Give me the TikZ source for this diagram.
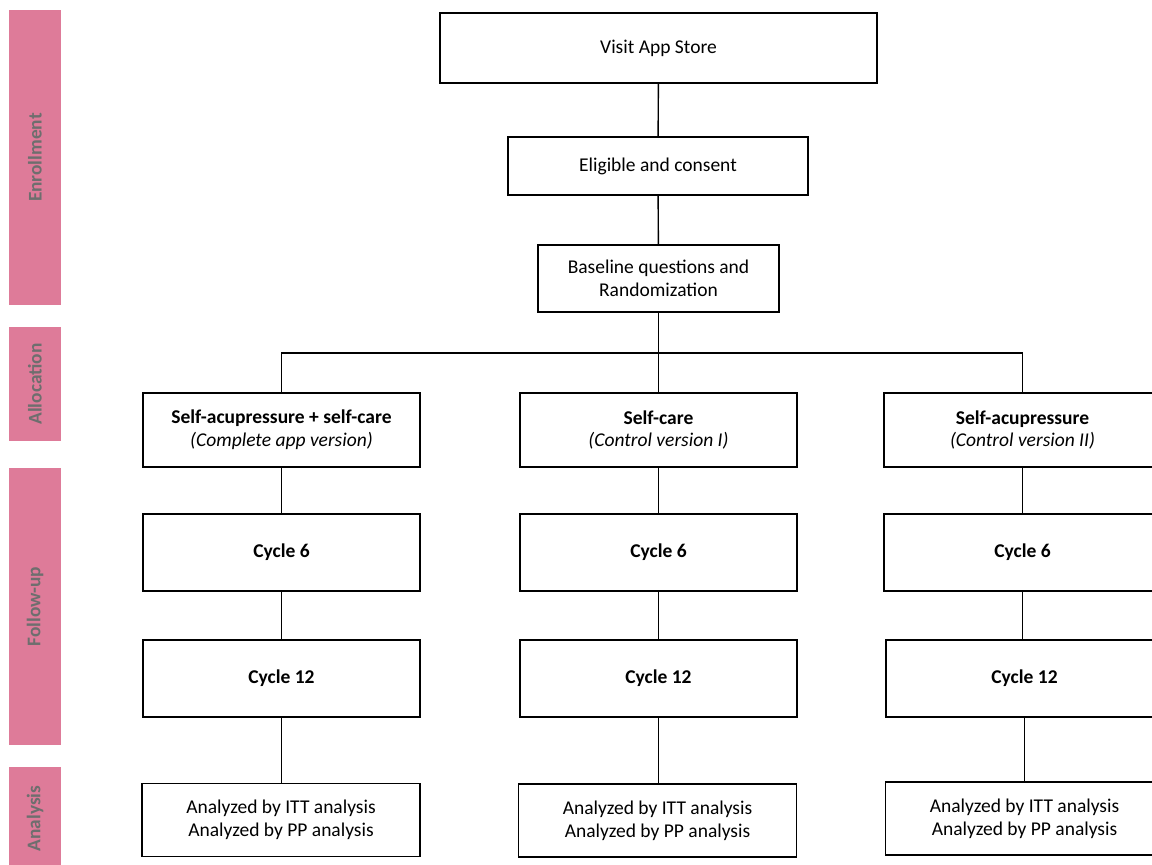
\documentclass[tikz,border=0pt]{standalone}
\usepackage{fontspec}
\setmainfont{Carlito}
\definecolor{phasepink}{HTML}{DE7B99}
\definecolor{phasegrey}{HTML}{6E6E6E}

\begin{document}
\begin{tikzpicture}[
  box/.style={draw, line width=0.8pt, align=center, inner sep=2pt,
    font=\fontsize{11.1}{13}\selectfont},
  armbox/.style={box, minimum width=5.54cm, minimum height=1.48cm},
  cycbox/.style={box, minimum width=5.54cm, minimum height=1.54cm, font=\fontsize{11.1}{13}\selectfont\bfseries},
  anbox/.style={box, minimum width=5.56cm, minimum height=1.46cm},
  phase/.style={fill=phasepink, rotate=90, minimum height=1.04cm, inner sep=0pt,
    text=phasegrey, font=\fontsize{11}{13}\selectfont\bfseries},
  link/.style={line width=0.8pt}]

\useasboundingbox (0,0) rectangle (23.04,-17.28);

\node[phase, minimum width=5.90cm] (enrol) at (0.70,-3.15)  {Enrollment};
\node[phase, minimum width=2.28cm] (alloc) at (0.70,-7.68)  {Allocation};
\node[phase, minimum width=5.54cm] (follow) at (0.70,-12.13) {Follow-up};
\node[phase, minimum width=2.06cm] (anal) at (0.70,-16.37)  {Analysis};

\node[box, minimum width=8.74cm, minimum height=1.40cm] (visit) at (13.17,-0.96) {Visit App Store};
\node[box, minimum width=6.00cm, minimum height=1.16cm] (elig)  at (13.16,-3.32) {Eligible and consent};
\node[box, minimum width=4.82cm, minimum height=1.34cm] (base)  at (13.17,-5.57) {Baseline questions and\\Randomization};
\coordinate (split) at (13.17,-7.06);

\node[armbox] (arm_a) at (5.63,-8.60)  {\textbf{Self-acupressure + self-care}\\\textit{(Complete app version)}};
\node[armbox] (arm_b) at (13.17,-8.60) {\textbf{Self-care}\\\textit{(Control version I)}};
\node[armbox] (arm_c) at (20.45,-8.60) {\textbf{Self-acupressure}\\\textit{(Control version II)}};

\node[cycbox] (c6_a) at (5.63,-11.05)  {Cycle 6};
\node[cycbox] (c6_b) at (13.17,-11.05) {Cycle 6};
\node[cycbox] (c6_c) at (20.45,-11.05) {Cycle 6};

\node[cycbox] (c12_a) at (5.63,-13.57)  {Cycle 12};
\node[cycbox] (c12_b) at (13.17,-13.57) {Cycle 12};
\node[cycbox] (c12_c) at (20.49,-13.57) {Cycle 12};

\node[anbox] (an_a) at (5.62,-16.40)  {Analyzed by ITT analysis\\Analyzed by PP analysis};
\node[anbox] (an_b) at (13.15,-16.41) {Analyzed by ITT analysis\\Analyzed by PP analysis};
\node[anbox] (an_c) at (20.49,-16.37) {Analyzed by ITT analysis\\Analyzed by PP analysis};

\draw[link] (visit) -- (elig);
\draw[link] (elig) -- (base);
\draw[link] (base) -- (split);
\draw[link] (arm_a.north) |- (split) -| (arm_c.north);
\draw[link] (split) -- (arm_b);
\foreach \col in {a,b,c} {
  \draw[link] (arm_\col.south) -- (arm_\col.south |- c6_\col.north);
  \draw[link] (c6_\col.south) -- (c6_\col.south |- c12_\col.north);
  \draw[link] (c12_\col.south) -- (c12_\col.south |- an_\col.north);
}
\end{tikzpicture}
\end{document}
